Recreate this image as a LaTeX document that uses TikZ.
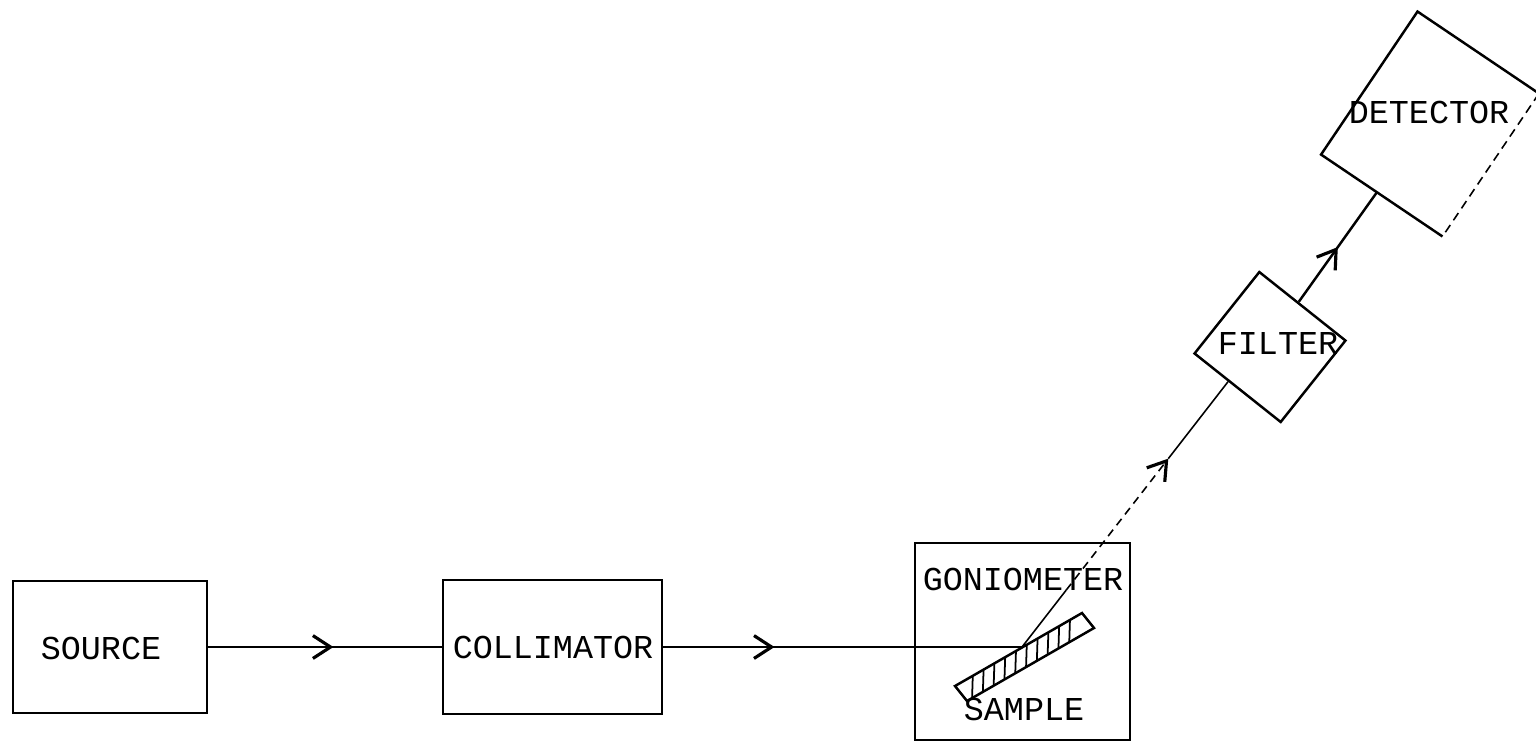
\documentclass[tikz,border=0pt]{standalone}
\usepackage{fontspec}
\setmonofont{Liberation Mono}
\usetikzlibrary{arrows.meta,decorations.markings,calc}
\begin{document}
\begin{tikzpicture}[x=0.01cm,y=-0.01cm,
  box/.style={draw, line width=0.7pt, inner sep=0pt},
  lbl/.style={font=\ttfamily\fontsize{9.5}{11}\selectfont, inner sep=0pt},
  beam/.style={line width=0.7pt},
  thinbeam/.style={line width=0.45pt},
  barb/.style={-{Straight Barb[length=5pt,width=6.5pt,line width=0.9pt]}},
  midarrow/.style={postaction={decorate},
    decoration={markings, mark=at position #1 with {\arrow{Straight Barb[length=5pt,width=6.5pt,line width=0.9pt]}}}}]
\useasboundingbox (0,0) rectangle (1536,741);

% boxes
\node[box, minimum width=1.94cm, minimum height=1.32cm] (source) at (110,647) {};
\node[lbl] (sourcetxt) at (101,648) {SOURCE};
\node[box, minimum width=2.19cm, minimum height=1.34cm] (coll) at (552.5,647) {};
\node[lbl] (colltxt) at (553,647) {COLLIMATOR};
\node[box, minimum width=2.15cm, minimum height=1.97cm] (gonio) at (1022.5,641.5) {};
\node[lbl] (goniotxt) at (1023,579) {GONIOMETER};
\node[lbl] (sampletxt) at (1024,709) {SAMPLE};

% filter
\node[box, minimum width=1.10cm, minimum height=1.04cm, rotate=-38.5] (filter) at (1270,347) {};
\node[lbl] (filtertxt) at (1278,343) {FILTER};

% detector
\node[inner sep=0pt, minimum width=1.45cm, minimum height=1.71cm, rotate=-34] (det) at (1430,124) {};
\draw[line width=0.7pt] (det.north east) -- (det.north west) -- (det.south west) -- (det.south east);
\draw[thinbeam, dash pattern=on 2.5pt off 1.6pt] (det.north east) -- (det.south east);
\node[lbl] (dettxt) at (1429,112) {DETECTOR};

% sample
\coordinate (sA) at (955,686);
\coordinate (sB) at (1082,613);
\coordinate (sC) at (1094,628);
\coordinate (sD) at (967,701);
\draw[line width=0.7pt] (sA) -- (sB) -- (sC) -- (sD) -- cycle;
\foreach \t in {0.04,0.125,...,0.85}
  \draw[line width=0.5pt] ($(sD)!\t!(sC)$) -- ($(sA)!{\t+0.1}!(sB)$);

% beam
\coordinate (hit) at (1022,647);
\draw[beam, midarrow=0.536] (source.east) -- (coll.west);
\draw[beam, midarrow=0.31] (coll.east) -- (hit);

% reflected beam
\coordinate (fin) at ($(filter.south west)!0.4!(filter.south east)$);
\coordinate (r1) at ($(hit)!0.214!(fin)$);
\coordinate (r2) at ($(hit)!0.71!(fin)$);
\draw[thinbeam] (hit) -- (r1);
\draw[thinbeam, dash pattern=on 2.3pt off 1.6pt, barb] (r1) -- (r2);
\draw[thinbeam] (r2) -- (fin);

% filter to detector
\coordinate (fout) at ($(filter.north west)!0.45!(filter.north east)$);
\coordinate (din) at ($(det.south west)!0.46!(det.south east)$);
\draw[beam, midarrow=0.5] (fout) -- (din);
\end{tikzpicture}
\end{document}
